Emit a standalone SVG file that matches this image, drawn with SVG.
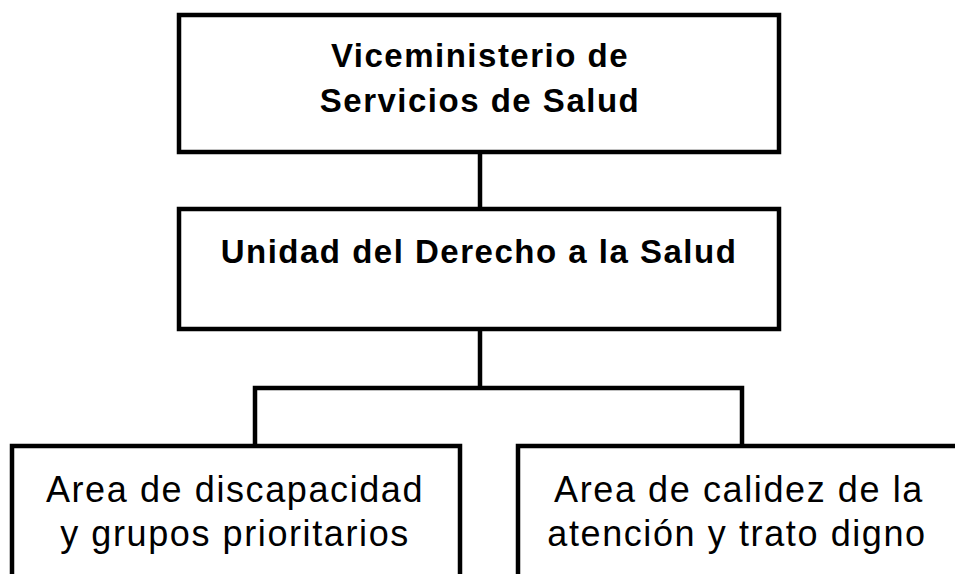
<svg xmlns="http://www.w3.org/2000/svg" width="955" height="574" viewBox="0 0 955 574">
  <style>
    .box { fill: #ffffff; stroke: #000000; stroke-width: 4.5; }
    .conn { fill: none; stroke: #000000; stroke-width: 4.5; }
    .bold { font-family: "Liberation Sans", Arial, sans-serif; font-weight: bold; font-size: 33px; letter-spacing: 1.5px; fill: #000000; text-anchor: middle; }
    .reg { font-family: "Liberation Sans", Arial, sans-serif; font-size: 36px; letter-spacing: 1.6px; fill: #000000; text-anchor: middle; }
  </style>
  <rect x="0" y="0" width="955" height="574" fill="#ffffff"/>
  <g id="connectors">
    <line class="conn" x1="480" y1="152" x2="480" y2="209"/>
    <line class="conn" x1="480" y1="329" x2="480" y2="388"/>
    <polyline class="conn" points="255,446 255,388 742,388 742,446"/>
  </g>
  <g id="viceministerio">
    <rect class="box" x="179" y="15" width="600" height="137"/>
    <text class="bold" x="480" y="67">Viceministerio de</text>
    <text class="bold" x="480" y="112">Servicios de Salud</text>
  </g>
  <g id="unidad">
    <rect class="box" x="179" y="209" width="600" height="120"/>
    <text class="bold" x="479" y="263">Unidad del Derecho a la Salud</text>
  </g>
  <g id="area-discapacidad">
    <rect class="box" x="12" y="446" width="448" height="160"/>
    <text class="reg" x="235" y="502">Area de discapacidad</text>
    <text class="reg" x="235" y="546">y grupos prioritarios</text>
  </g>
  <g id="area-calidez">
    <rect class="box" x="518" y="446" width="450" height="160"/>
    <text class="reg" x="739" y="502">Area de calidez de la</text>
    <text class="reg" x="737" y="546">atención y trato digno</text>
  </g>
</svg>
